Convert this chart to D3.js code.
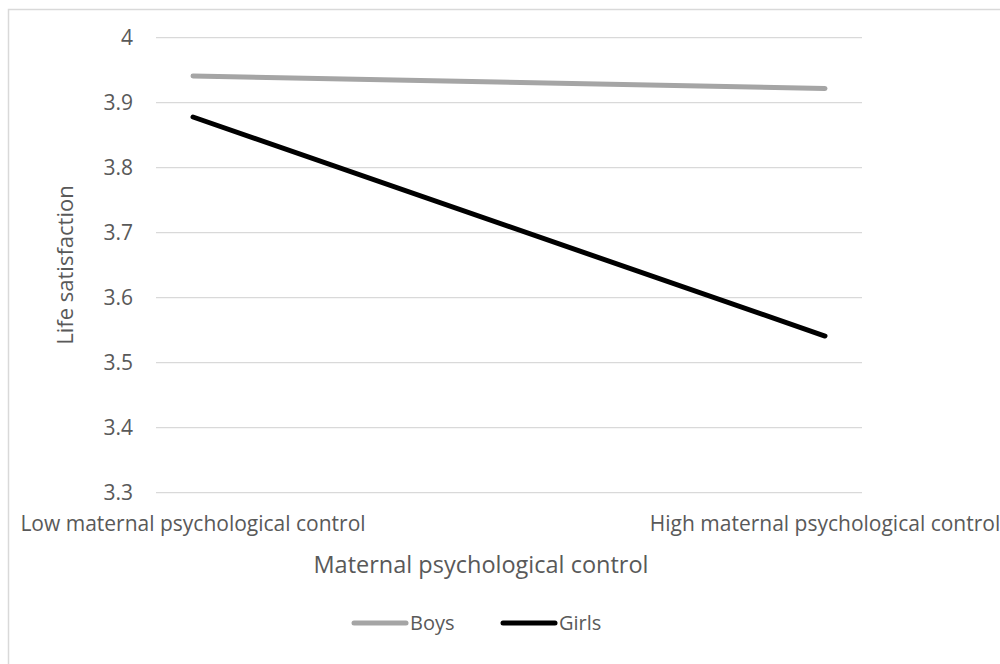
<!DOCTYPE html>
<html lang="en">
<head>
<meta charset="UTF-8">
<title>Life satisfaction</title>
<script src="https://d3js.org/d3.v7.min.js"></script>
<style>
  body { margin: 0; background: #fff; }
  text { font-family: "Open Sans", "Noto Sans", sans-serif; fill: #595959; }
</style>
</head>
<body>
<svg></svg>
<script>
  // data
  const categories = ['Low maternal psychological control', 'High maternal psychological control']
  const boys = [3.941, 3.922]
  const girls = [3.878, 3.541]
  const yTicks = [3.3, 3.4, 3.5, 3.6, 3.7, 3.8, 3.9, 4]

  const width = 1000
  const height = 664

  const svg = d3.select('svg')
    .attr('width', width)
    .attr('height', height)

  // outer chart border (cut off on right/bottom like the source)
  svg.append('rect')
    .attr('x', 8.5).attr('y', 9.5)
    .attr('width', 1000).attr('height', 700)
    .attr('fill', 'none')
    .attr('stroke', '#d9d9d9')
    .attr('stroke-width', 1.5)

  const plotLeft = 156, plotRight = 862

  const x = d3.scalePoint()
    .domain(categories)
    .range([193, 825])

  const y = d3.scaleLinear()
    .domain([3.3, 4])
    .range([492.7, 37.7])

  // gridlines
  svg.append('g')
    .selectAll('line')
    .data(yTicks)
    .join('line')
    .attr('x1', plotLeft)
    .attr('x2', plotRight)
    .attr('y1', d => y(d))
    .attr('y2', d => y(d))
    .attr('stroke', '#d9d9d9')
    .attr('stroke-width', 1.3)

  // y tick labels
  svg.append('g')
    .selectAll('text')
    .data(yTicks)
    .join('text')
    .attr('x', 133)
    .attr('y', d => y(d))
    .attr('dy', '0.35em')
    .attr('text-anchor', 'end')
    .style('font-size', '21px')
    .text(d => d3.format('')(d))

  // category labels
  svg.append('g')
    .selectAll('text')
    .data(categories)
    .join('text')
    .attr('x', d => x(d))
    .attr('y', 531)
    .attr('text-anchor', 'middle')
    .style('font-size', '21px')
    .text(d => d)

  // axis titles
  svg.append('text')
    .attr('x', 481)
    .attr('y', 573)
    .attr('text-anchor', 'middle')
    .style('font-size', '23.5px')
    .text('Maternal psychological control')

  svg.append('text')
    .attr('transform', 'translate(73,265) rotate(-90)')
    .attr('text-anchor', 'middle')
    .style('font-size', '22px')
    .text('Life satisfaction')

  const series = [
    { name: 'Boys', values: boys, color: '#a5a5a5' },
    { name: 'Girls', values: girls, color: '#000000' }
  ]

  const line = d3.line()
    .x((d, i) => x(categories[i]))
    .y(d => y(d))

  svg.append('g')
    .selectAll('path')
    .data(series)
    .join('path')
    .attr('d', d => line(d.values))
    .attr('fill', 'none')
    .attr('stroke', d => d.color)
    .attr('stroke-width', 5)
    .attr('stroke-linecap', 'round')

  // legend
  const legendX = [352, 501]
  const legend = svg.append('g')
    .selectAll('g')
    .data(series)
    .join('g')
    .attr('transform', (d, i) => `translate(${legendX[i]},623)`)

  legend.append('line')
    .attr('x1', 2).attr('x2', 54)
    .attr('y1', 0).attr('y2', 0)
    .attr('stroke', d => d.color)
    .attr('stroke-width', 5)
    .attr('stroke-linecap', 'round')

  legend.append('text')
    .attr('x', 58)
    .attr('dy', '0.35em')
    .style('font-size', '20px')
    .text(d => d.name)
</script>
</body>
</html>
